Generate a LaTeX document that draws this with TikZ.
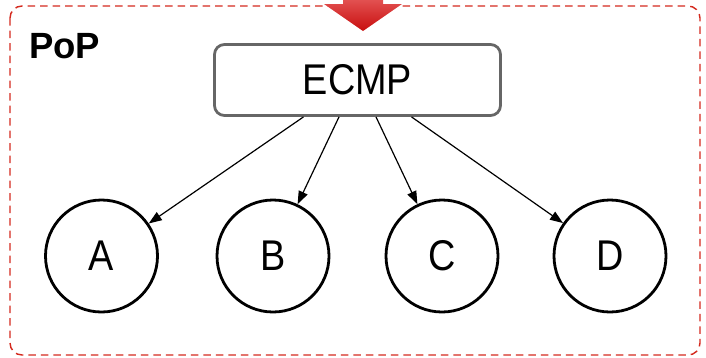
\documentclass[tikz,border=0pt]{standalone}
\usepackage{fontspec}
\setmainfont{Liberation Sans}
\usetikzlibrary{arrows.meta}
\definecolor{popred}{HTML}{D42A1E}
\definecolor{arrowtop}{HTML}{E25050}
\definecolor{arrowbot}{HTML}{C80E0E}
\definecolor{boxgray}{HTML}{666666}
\tikzset{
  frame/.style={draw=popred, line width=1.4pt, dash pattern=on 7.5pt off 5pt, rounded corners=12pt},
  ecmpbox/.style={draw=boxgray, line width=2.8pt, rounded corners=10pt, minimum width=286pt, minimum height=71pt, inner sep=0pt},
  server/.style={draw=black, line width=2.8pt, circle, minimum size=112pt, inner sep=0pt},
  flow/.style={line width=1.2pt, -{Triangle[length=13pt,width=9.5pt]}},
  lbl/.style={inner sep=0pt}
}
\newcommand{\bigtxt}[1]{\scalebox{0.88}[1]{\fontsize{43}{50}\selectfont #1}}
\begin{document}
\begin{tikzpicture}[x=1pt,y=-1pt]
\useasboundingbox (0,0) rectangle (706,357);
\draw[frame] (10,6) rectangle (700,355);
\shade[top color=arrowtop, bottom color=arrowbot, draw=none] (343,0) -- (383,0) -- (383,4) -- (402,4) -- (363,31) -- (324,4) -- (343,4) -- cycle;
\node[lbl, anchor=base west] (pop) at (29,58) {\fontsize{36.5}{42}\selectfont\bfseries PoP};
\node[ecmpbox] (ecmp) at (357.5,80) {\bigtxt{ECMP}};
\node[server] (A) at (101.5,256) {\bigtxt{A}};
\node[server] (B) at (273,256) {\bigtxt{B}};
\node[server] (C) at (442,256) {\bigtxt{C}};
\node[server] (D) at (610,256) {\bigtxt{D}};
\draw[flow] ([xshift=-54pt]ecmp.south) -- (A);
\draw[flow] ([xshift=-18.5pt]ecmp.south) -- (B);
\draw[flow] ([xshift=18.5pt]ecmp.south) -- (C);
\draw[flow] ([xshift=54pt]ecmp.south) -- (D);
\end{tikzpicture}
\end{document}
